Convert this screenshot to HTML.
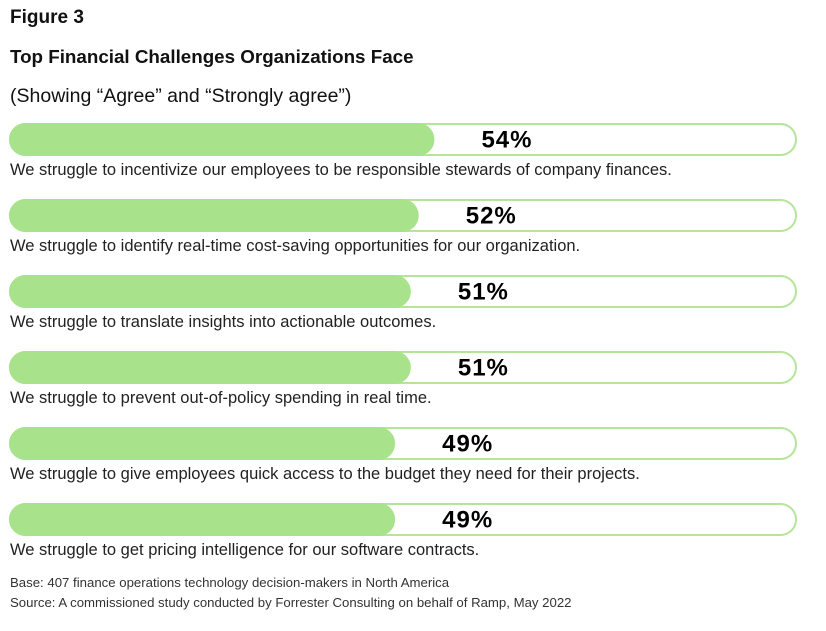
<!DOCTYPE html>
<html><head><meta charset="utf-8"><style>
body{margin:0;background:#fff;width:826px;height:631px;overflow:hidden;font-family:"Liberation Sans",sans-serif;color:#111;}
.t{position:absolute;left:10px;white-space:nowrap;}
</style></head><body>
<div class="t" style="top:7px;font-size:19px;font-weight:bold;">Figure 3</div>
<div class="t" style="top:46px;font-size:18.8px;font-weight:bold;">Top Financial Challenges Organizations Face</div>
<div class="t" style="top:85px;font-size:19.5px;">(Showing “Agree” and “Strongly agree”)</div>
<svg id="chart" width="826" height="631" style="position:absolute;left:0;top:0"></svg>
<div class="t" style="top:575px;font-size:13.2px;color:#333;">Base: 407 finance operations technology decision-makers in North America</div>
<div class="t" style="top:595px;font-size:13.2px;color:#333;">Source: A commissioned study conducted by Forrester Consulting on behalf of Ramp, May 2022</div>
<script>
const categories=["We struggle to incentivize our employees to be responsible stewards of company finances.","We struggle to identify real-time cost-saving opportunities for our organization.","We struggle to translate insights into actionable outcomes.","We struggle to prevent out-of-policy spending in real time.","We struggle to give employees quick access to the budget they need for their projects.","We struggle to get pricing intelligence for our software contracts."];
const values=[54,52,51,51,49,49];
const labels=["54%","52%","51%","51%","49%","49%"];
const svg=document.getElementById('chart');
const NS="http://www.w3.org/2000/svg";
const x0=10,trackW=786,top0=124,step=76,h=31;
const xs=v=>x0+v/100*trackW;
function mk(t,a){const e=document.createElementNS(NS,t);for(const k in a)e.setAttribute(k,a[k]);svg.appendChild(e);return e;}
values.forEach((v,i)=>{
 const y=top0+i*step;
 const tr=mk('rect',{x:x0,y:y,width:trackW,height:h,rx:h/2,fill:'#fff',stroke:'#b5e59a','stroke-width':2});
 
 
 const f=mk('rect',{x:x0-1,y:y-1,width:xs(v)-x0+1,height:h+2,rx:(h+2)/2,fill:'#a8e28a'});
 
 
 const lt=mk('text',{x:xs(v)+47,y:y+h/2+8,'font-size':24,'font-weight':'bold','letter-spacing':1,'font-family':'Liberation Sans, sans-serif',fill:'#000'});
 lt.textContent=labels[i];
 
 
 const ct=mk('text',{x:x0,y:y+h+20,'font-size':16.5,'font-family':'Liberation Sans, sans-serif',fill:'#222'});
 ct.textContent=categories[i];
 
 
});
</script>
</body></html>
